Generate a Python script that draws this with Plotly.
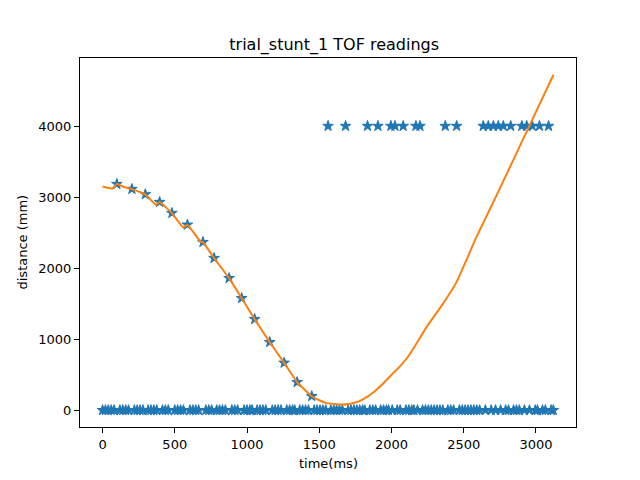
import plotly.graph_objects as go

# Raw TOF readings (blue stars)
valid_times = [99, 203, 296, 395, 480, 587, 695, 772, 876, 963, 1053, 1157, 1257, 1347, 1448]
valid_dist = [3183, 3113, 3038, 2930, 2775, 2610, 2366, 2141, 1859, 1577, 1282, 958, 667, 394, 197]

max_times = [1561, 1682, 1834, 1906, 1996, 2024, 2081, 2169, 2197, 2372, 2451,
             2635, 2670, 2705, 2739, 2774, 2825, 2902, 2936, 2975, 3024, 3087]
max_dist = [4000] * len(max_times)

zero_times = [0, 20, 40, 60, 80, 120, 140, 160, 180, 220, 240, 260, 280, 315, 335, 355, 375,
              415, 435, 455, 500, 520, 540, 560, 605, 625, 645, 665, 715, 735, 755, 790, 810,
              830, 850, 895, 915, 935, 980, 1000, 1020, 1035, 1070, 1090, 1110, 1130, 1175,
              1195, 1215, 1235, 1275, 1295, 1315, 1330, 1365, 1385, 1405, 1425, 1465, 1485,
              1505, 1525, 1545, 1580, 1600, 1620, 1640, 1660, 1700, 1720, 1740, 1760, 1780,
              1800, 1815, 1850, 1870, 1890, 1925, 1945, 1965, 1980, 2005, 2040, 2060, 2100,
              2120, 2140, 2155, 2180, 2215, 2235, 2255, 2275, 2295, 2315, 2335, 2355, 2390,
              2410, 2430, 2470, 2490, 2510, 2530, 2550, 2570, 2590, 2610, 2650, 2690, 2720,
              2755, 2790, 2810, 2845, 2865, 2885, 2920, 2955, 2995, 3010, 3045, 3065, 3105, 3120]
zero_dist = [0] * len(zero_times)

# Filtered estimate (orange line)
est_times = [0, 70, 99, 150, 203, 260, 296, 370, 395, 480, 560, 587, 680, 695, 772, 876, 963,
             1053, 1157, 1257, 1347, 1448, 1500, 1550, 1619, 1680, 1750, 1800, 1880, 1942,
             2000, 2050, 2105, 2170, 2243, 2350, 2451, 2520, 2578, 2650, 2728, 2800, 2867,
             2930, 2982, 3050, 3121]
est_dist = [3150, 3122, 3183, 3140, 3113, 3070, 3038, 2890, 2930, 2775, 2570, 2610, 2370, 2366,
            2141, 1859, 1577, 1282, 958, 667, 394, 197, 140, 100, 85, 82, 108, 150, 260, 376,
            500, 600, 728, 930, 1174, 1480, 1807, 2120, 2394, 2700, 3028, 3338, 3627,
            3898, 4122, 4416, 4722]

raw = sorted(zip(valid_times + max_times + zero_times, valid_dist + max_dist + zero_dist))
raw_t = [p[0] for p in raw]
raw_d = [p[1] for p in raw]

fig = go.Figure()
fig.add_trace(go.Scatter(x=raw_t, y=raw_d, mode="markers",
                         marker=dict(symbol="star", size=8, color="#1f77b4",
                                     line=dict(width=1, color="#1f77b4")),
                         showlegend=False))
fig.add_trace(go.Scatter(x=est_times, y=est_dist, mode="lines",
                         line=dict(color="#ff7f0e", width=2, shape="spline", smoothing=0.3),
                         showlegend=False))

all_x = raw_t + est_times
all_y = raw_d + est_dist
xmin, xmax = min(all_x), max(all_x)
ymin, ymax = min(all_y), max(all_y)
xpad = 0.05 * (xmax - xmin)
ypad = 0.05 * (ymax - ymin)

axis_common = dict(showgrid=False, zeroline=False, showline=True, linecolor="black",
                   linewidth=1, mirror=True, ticks="outside", ticklen=5, tickwidth=1,
                   tickcolor="black", tickfont=dict(family="DejaVu Sans", size=13, color="black"))

fig.update_layout(
    width=640, height=480,
    margin=dict(l=80, r=64, t=58, b=53),
    paper_bgcolor="white", plot_bgcolor="white",
    font=dict(family="DejaVu Sans", color="black"),
    title=dict(text="trial_stunt_1 TOF readings", x=328 / 640, xanchor="center",
               y=1 - 44 / 480, yanchor="middle", xref="paper",
               font=dict(family="DejaVu Sans", size=16, color="black")),
    xaxis=dict(range=[xmin - xpad, xmax + xpad], tickmode="array",
               tickvals=[0, 500, 1000, 1500, 2000, 2500, 3000], **axis_common),
    yaxis=dict(range=[ymin - ypad, ymax + ypad], tickmode="array",
               tickvals=[0, 1000, 2000, 3000, 4000], **axis_common),
    annotations=[
        dict(text="time(ms)", xref="paper", yref="paper", x=0.5, y=-36 / 369,
             xanchor="center", yanchor="middle", showarrow=False,
             font=dict(family="DejaVu Sans", size=13, color="black")),
        dict(text="distance (mm)", xref="paper", yref="paper", x=-58 / 496, y=0.5,
             xanchor="center", yanchor="middle", showarrow=False, textangle=-90,
             font=dict(family="DejaVu Sans", size=13, color="black")),
    ],
)

fig.write_html("out.html")
